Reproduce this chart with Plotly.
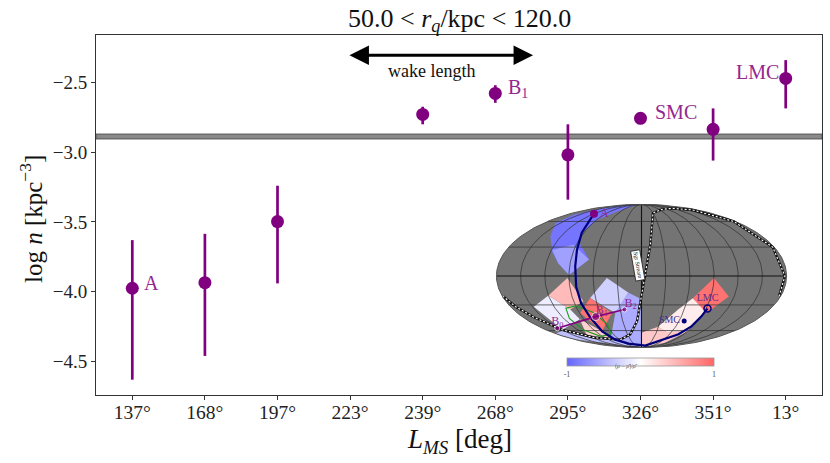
import numpy as np
import plotly.graph_objects as go
from plotly.colors import sample_colorscale

# ---------------- main panel data ----------------
tick_labels = ["137°", "168°", "197°", "223°", "239°", "268°", "295°", "326°", "351°", "13°"]
point_cats = ["137°", "168°", "197°", "239°", "268°", "295°", "326°", "351°", "13°"]
log_n = [-3.975, -3.935, -3.497, -2.729, -2.579, -3.019, -2.757, -2.836, -2.471]
err_plus = [0.345, 0.350, 0.257, 0.055, 0.059, 0.219, 0.010, 0.150, 0.131]
err_minus = [0.655, 0.525, 0.443, 0.071, 0.067, 0.321, 0.010, 0.224, 0.215]
y_tick_vals = [-2.5, -3.0, -3.5, -4.0, -4.5]
y_tick_text = ["−2.5", "−3.0", "−3.5", "−4.0", "−4.5"]
mean_band = [-2.905, -2.870]
wake_span = [2.97, 5.52]
wake_y = -2.305
wake_text_x = 4.12
point_label_text = ["A", "B<sub>1</sub>", "SMC", "LMC"]
point_label_cat = ["137°", "268°", "326°", "13°"]
point_label_val = [-3.975, -2.579, -2.757, -2.471]

# ---------------- inset sky map data (lon, lat in deg) ----------------
track_lon = [-120, -93, -86, -83, -82, -81, -78, -77, -71, -49, 20, 50, 79, 87, 90, 92]
track_lat = [71, 46, 27, 10, -11, -28, -44, -61, -73, -80, -84, -76, -65, -55, -43, -34]
sgr_lon = [178, 178, 178, 177, 165, 115, 69, 30, 12, 7, 0, -7, -24, -57, -115, -149, -163, -173, -179]
sgr_lat = [-21, 0, 30, 60, 77, 80, 78, 72, 32, 12, -19, -48, -65, -73, -70, -59, -44, -32, -21]
b_lon = [-153, -69, -24]
b_lat = [-57, -43, -35]
b_names = ["B<sub>0</sub>", "B<sub>1</sub>", "B<sub>2</sub>"]
a_lon, a_lat = [-120], [71]
smc_lon, smc_lat = [68], [-48]
lmc_lon, lmc_lat = [92], [-34]
ell_lon = [-65, -94, -110, -111, -105, -90, -70, -57, -65]
ell_lat = [-65, -68, -59, -45, -33.5, -31, -38, -52, -65]

topblue_lon = [-159, -162, -155, -134, -90, -70, -89, -92, -89, -67, -90, -105, -117, -136]
topblue_lat = [58, 69, 78.5, 86, 89.5, 74, 62, 47.5, 36, 17, 1, 13, 24, 42]
ltblue_lon = [-119, -94, -67, -90, -105]
ltblue_lat = [27, 32.5, 17, 1, 13]
pinkdia_lon = [-92, -77, -100, -120]
pinkdia_lat = [-2, -26, -35, -20]
whitelav_lon = [-120, -100, -96, -149, -148]
whitelav_lat = [-20, -35, -46, -59, -32]
lavdia_lon = [-43, -17, -38, -67]
lavdia_lat = [-2, -17, -39, -22.6]
rblue_lon = [-17, 0, 0, -84, -38]
rblue_lat = [-17, -24, -89, -73, -39]
pinklow_lon = [-96, -77, -80, -120]
pinklow_lat = [-46, -61, -70, -66]
strip_lon = [-150, -115, -57, -24, 0, -179, -179]
strip_lat = [-60, -71, -74, -66, -89, -72, -64]
reddia_lon = [-67, -43, -77, -89]
reddia_lat = [-22.6, -39, -61, -39]
bandw_lon = [67, 93, 91, 50, 29, 51.5]
bandw_lat = [-23, -37, -61, -62, -55, -35]
bandp_lon = [29, 50, 91, 81, 0, 0]
bandp_lat = [-55, -62, -61, -78.5, -89, -63]
lmcdia_lon = [90, 113, 94, 67]
lmcdia_lat = [-2, -21, -39, -23]
patch_values = {"topblue": -0.9, "ltblue": -0.62, "pinkdia": 0.45, "whitelav": -0.12,
                "lavdia": -0.3, "rblue": -0.55, "pinklow": 0.3, "strip": -0.42,
                "reddia": 0.92, "bandw": 0.12, "bandp": 0.35, "lmcdia": 0.92}
cbar_ticks = [-1, 1]

# ---------------- styling ----------------
SERIF = "Liberation Serif"
PURPLE = "#800080"
LABEL_PURPLE = "#93278f"
NAVY = "#00007a"
MAPGRAY = "#747474"
cscale = [[0.0, "#6666ff"], [0.5, "#ffffff"], [1.0, "#ff6666"]]

L, R, T, B = 96, 8, 35, 68
W, H = 830, 463
PW, PH = W - L - R, H - T - B


def px2paper(px, py):
    return (px - L) / PW, (H - B - py) / PH


def moll(lon, lat):
    """Mollweide projection of lon/lat (deg) onto the inset's own axes."""
    lam = np.radians(np.asarray(lon, float))
    phi = np.radians(np.asarray(lat, float))
    th = phi.copy()
    for _ in range(60):
        f = 2 * th + np.sin(2 * th) - np.pi * np.sin(phi)
        d = 2 + 2 * np.cos(2 * th)
        step = np.where(np.abs(d) > 1e-10, f / np.where(np.abs(d) > 1e-10, d, 1), 0)
        th = np.clip(th - step, -np.pi / 2, np.pi / 2)
    return 2 * np.sqrt(2) / np.pi * lam * np.cos(th), np.sqrt(2) * np.sin(th)


fig = go.Figure()

fig.add_trace(go.Scatter(
    x=point_cats, y=log_n, mode="markers",
    marker=dict(color=PURPLE, size=13),
    error_y=dict(type="data", symmetric=False, array=err_plus, arrayminus=err_minus,
                 color=PURPLE, thickness=2.7, width=0),
    showlegend=False, hoverinfo="skip"))


def geo_line(lon, lat, **kw):
    x, y = moll(lon, lat)
    kw.setdefault("mode", "lines")
    fig.add_trace(go.Scatter(x=x, y=y, xaxis="x2", yaxis="y2", showlegend=False,
                             hoverinfo="skip", cliponaxis=False, **kw))


# sphere background
edge_lat = np.linspace(-90, 90, 121)
edge_lon = np.concatenate([np.full(121, 180.0), np.full(121, -180.0)])
edge_la = np.concatenate([edge_lat, edge_lat[::-1]])
geo_line(edge_lon, edge_la, fill="toself", fillcolor=MAPGRAY, line=dict(width=0, color=MAPGRAY))

# density patches
patches = [("topblue", topblue_lon, topblue_lat), ("ltblue", ltblue_lon, ltblue_lat),
           ("strip", strip_lon, strip_lat), ("whitelav", whitelav_lon, whitelav_lat),
           ("pinklow", pinklow_lon, pinklow_lat), ("pinkdia", pinkdia_lon, pinkdia_lat),
           ("rblue", rblue_lon, rblue_lat), ("lavdia", lavdia_lon, lavdia_lat),
           ("reddia", reddia_lon, reddia_lat), ("bandp", bandp_lon, bandp_lat),
           ("bandw", bandw_lon, bandw_lat), ("lmcdia", lmcdia_lon, lmcdia_lat)]
for name, lo, la in patches:
    col = sample_colorscale(cscale, [(patch_values[name] + 1) / 2])[0]
    geo_line(lo + [lo[0]], la + [la[0]], fill="toself", fillcolor=col, line=dict(width=0, color=col))

# graticule
grid_lat = np.linspace(-90, 90, 91)
for lo in range(-150, 180, 30):
    geo_line(np.full(grid_lat.size, float(lo)), grid_lat,
             line=dict(color="#2e2e2e", width=0.7) if lo != 0 else dict(color="#111", width=1.1))
grid_lon = np.linspace(-180, 180, 181)
for la in [-60, -30, 0, 30, 60]:
    geo_line(grid_lon, np.full(grid_lon.size, float(la)),
             line=dict(color="#2e2e2e", width=0.7) if la != 0 else dict(color="#111", width=1.1))
# frame
geo_line(edge_lon, edge_la, line=dict(color="#555", width=1))

# Sgr stream
geo_line(sgr_lon, sgr_lat, line=dict(color="#111", width=2.4))
geo_line(sgr_lon, sgr_lat, line=dict(color="white", width=1.1, dash="2px,2px"))
# ellipse
geo_line(ell_lon, ell_lat, line=dict(color="#1f9a1f", width=1.1))
# track
geo_line(track_lon, track_lat, line=dict(color=NAVY, width=2.2))
# B points
geo_line(b_lon, b_lat, mode="lines+markers", line=dict(color=PURPLE, width=1.6),
         marker=dict(color=PURPLE, size=[5, 8, 5]))
geo_line(b_lon, b_lat, mode="text", text=b_names, textposition=["top center", "top right", "top right"],
         textfont=dict(family=SERIF, size=12, color=LABEL_PURPLE))
geo_line(a_lon, a_lat, mode="markers+text", text=["A"], textposition="middle right",
         textfont=dict(family=SERIF, size=12, color=LABEL_PURPLE), marker=dict(color=PURPLE, size=8))
geo_line(smc_lon, smc_lat, mode="markers+text", text=["SMC"], textposition="middle left",
         textfont=dict(family=SERIF, size=10, color="#4a2f8f"), marker=dict(color=NAVY, size=5))
geo_line(lmc_lon, lmc_lat, mode="markers+text", text=["LMC"], textposition="top center",
         textfont=dict(family=SERIF, size=10, color="#5a2a8a"),
         marker=dict(color=NAVY, size=7, symbol="circle-open", line=dict(width=1.5, color=NAVY)))

# colorbar carrier
cb_x, cb_y = px2paper(640.5, 358)
fig.add_trace(go.Scatter(x=[0, 0], y=[0, 0], xaxis="x2", yaxis="y2", mode="markers",
                         marker=dict(size=1, opacity=0, color=cbar_ticks, colorscale=cscale,
                                     cmin=-1, cmax=1, showscale=True,
                                     colorbar=dict(orientation="h", x=cb_x, xanchor="center",
                                                   y=cb_y, yanchor="top", len=147, lenmode="pixels",
                                                   thickness=8, thicknessmode="pixels",
                                                   xpad=0, ypad=0, tickvals=cbar_ticks,
                                                   ticktext=["-1", "1"], ticks="",
                                                   tickfont=dict(family=SERIF, size=8, color="#555"),
                                                   outlinecolor="#999", outlinewidth=0.8)),
                         showlegend=False, hoverinfo="skip"))

gx0, gy0 = px2paper(496, 348)
gx1, gy1 = px2paper(787, 204)
XM, YM = 2 * np.sqrt(2), np.sqrt(2)

# ---- annotations ----
ann = []
tx, ty = px2paper(459, 20)
ann.append(dict(text="50.0 &lt; <i>r</i><sub><i>q</i></sub>/kpc &lt; 120.0", x=tx, y=ty, xref="paper", yref="paper",
                showarrow=False, font=dict(family=SERIF, size=26, color="#111"), xanchor="center", yanchor="middle"))
xx, xy = px2paper(459, 441)
ann.append(dict(text="<i>L</i><sub><i>MS</i></sub> [deg]", x=xx, y=xy, xref="paper", yref="paper",
                showarrow=False, font=dict(family=SERIF, size=27, color="#111"), xanchor="center", yanchor="middle"))
yx, yy = px2paper(31, 219)
ann.append(dict(text="log <i>n</i> [kpc<sup>−3</sup>]", x=yx, y=yy, xref="paper", yref="paper", textangle=-90,
                showarrow=False, font=dict(family=SERIF, size=25, color="#111"), xanchor="center", yanchor="middle"))
ann.append(dict(x=wake_span[1], y=wake_y, ax=wake_span[0], ay=wake_y, xref="x", yref="y", axref="x", ayref="y",
                text="", showarrow=True, arrowhead=2, startarrowhead=2, arrowside="end+start",
                arrowwidth=3, arrowsize=1.3, startarrowsize=1.3, arrowcolor="black", standoff=0, startstandoff=0))
ann.append(dict(x=wake_text_x, y=wake_y, xref="x", yref="y", yshift=-16,
                text="wake length", showarrow=False, font=dict(family=SERIF, size=18, color="#111")))
shifts = [(10, 5, "left"), (11, 5, "left"), (12, 6, "left"), (-5, 6, "right")]
for txt, cat, val, (xs, ys, anc) in zip(point_label_text, point_label_cat, point_label_val, shifts):
    ann.append(dict(x=tick_labels.index(cat), y=val, xref="x", yref="y", text=txt, showarrow=False,
                    xanchor=anc, xshift=xs, yshift=ys,
                    font=dict(family=SERIF, size=20, color=LABEL_PURPLE)))
sx, sy = px2paper(645, 281.5)
ann.append(dict(x=sx, y=sy, xref="paper", yref="paper", text="Sgr Stream", textangle=80, showarrow=False,
                font=dict(family=SERIF, size=6, color="#111"), bgcolor="white", bordercolor="#222",
                borderwidth=0.8, borderpad=1))
cx, cy = px2paper(640, 372)
ann.append(dict(x=cx, y=cy, xref="paper", yref="paper", text="(<i>ρ</i> − <i>ρ̄</i>)/<i>ρ̄</i>", showarrow=False,
                font=dict(family=SERIF, size=6, color="#666")))

fig.update_layout(
    width=W, height=H, margin=dict(l=L, r=R, t=T, b=B, autoexpand=False),
    plot_bgcolor="white", paper_bgcolor="white",
    font=dict(family=SERIF, color="#222"),
    annotations=ann,
    shapes=[dict(type="rect", xref="paper", x0=0, x1=1, yref="y", y0=mean_band[0], y1=mean_band[1],
                 fillcolor="#8a8a8a", line=dict(color="#555", width=1), layer="below")],
    xaxis=dict(type="category", categoryorder="array", categoryarray=tick_labels,
               tickvals=tick_labels, ticktext=tick_labels,
               range=[-0.5, 9.5], showline=True, mirror=True, linecolor="#333", linewidth=1,
               ticks="outside", ticklen=4, tickcolor="#333", showgrid=False, zeroline=False,
               ticklabelstandoff=-4,
               tickfont=dict(family=SERIF, size=19.5, color="#222")),
    yaxis=dict(range=[-4.74, -2.16], tickvals=y_tick_vals, ticktext=y_tick_text,
               showline=True, mirror=True, linecolor="#333", linewidth=1,
               ticks="outside", ticklen=4, tickcolor="#333", showgrid=False, zeroline=False,
               tickfont=dict(family=SERIF, size=19, color="#222")),
    xaxis2=dict(domain=[gx0, gx1], range=[-XM * 1.003, XM * 1.003], visible=False, anchor="y2"),
    yaxis2=dict(domain=[gy0, gy1], range=[-YM * 1.006, YM * 1.006], visible=False, anchor="x2"),
)

fig.write_html("out.html", config={"displayModeBar": False},
               post_script="document.body.style.margin='0';document.body.style.overflow='hidden';")
